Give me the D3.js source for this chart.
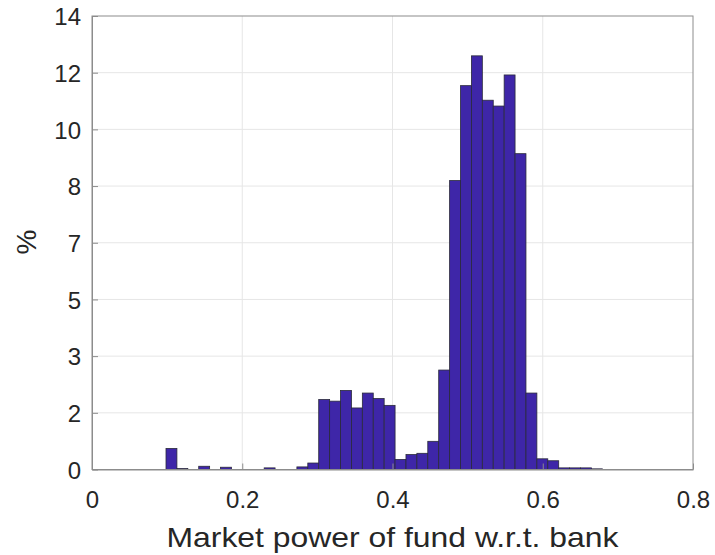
<!DOCTYPE html>
<html>
<head>
<meta charset="utf-8">
<script src="https://cdn.jsdelivr.net/npm/d3@7"></script>
<style>
  body { margin: 0; background: #fff; }
  text { font-family: "Liberation Sans", Arial, sans-serif; fill: #262626; }
</style>
</head>
<body>
<div id="chart"></div>
<script>
// histogram bins: lower edge of the first bin and bin width
var binStart = 0.0985
var binWidth = 0.01452

var binValues = [0.65, 0.03, 0, 0.10, 0, 0.07, 0, 0, 0, 0.05,
                 0, 0, 0.08, 0.20, 2.16, 2.11, 2.44, 1.90, 2.36, 2.19,
                 1.98, 0.31, 0.46, 0.50, 0.87, 3.07, 8.92, 11.85, 12.77, 11.40,
                 11.22, 12.18, 9.75, 2.36, 0.33, 0.27, 0.05, 0.05, 0.05, 0.02]

var xTicks = [0, 0.2, 0.4, 0.6, 0.8]
var yTicks = [0, 1.75, 3.5, 5.25, 7, 8.75, 10.5, 12.25, 14]
var yTickLabels = ["0", "2", "3", "5", "7", "8", "10", "12", "14"]

var bins = binValues.map(function(v, i) {
  return {x0: binStart + i * binWidth, x1: binStart + (i + 1) * binWidth, value: v}
})

var W = 715, H = 555
var pl = 92, pr = 693, pt = 16, pb = 469.5

var svg = d3.select("#chart").append("svg")
    .attr("width", W)
    .attr("height", H)

var x = d3.scaleLinear().domain([0, 0.8]).range([pl, pr])
var y = d3.scaleLinear().domain([0, 14]).range([pb, pt])

// grid
svg.append("g").selectAll("line").data(xTicks.slice(1, -1))
  .enter().append("line")
  .attr("x1", function(d){return x(d)}).attr("x2", function(d){return x(d)})
  .attr("y1", pt).attr("y2", pb)
  .attr("stroke", "#e6e6e6").attr("stroke-width", 1)

svg.append("g").selectAll("line").data(yTicks.slice(1, -1))
  .enter().append("line")
  .attr("x1", pl).attr("x2", pr)
  .attr("y1", function(d){return y(d)}).attr("y2", function(d){return y(d)})
  .attr("stroke", "#e6e6e6").attr("stroke-width", 1)

// bars
svg.append("g").selectAll("rect").data(bins)
  .enter().append("rect")
  .attr("x", function(d){return x(d.x0)})
  .attr("width", function(d){return x(d.x1) - x(d.x0)})
  .attr("y", function(d){return y(d.value)})
  .attr("height", function(d){return y(0) - y(d.value)})
  .attr("fill", "#3e26a8")
  .attr("stroke", "#2a2a3a")
  .attr("stroke-width", 0.8)

// box
svg.append("rect")
  .attr("x", pl).attr("y", pt)
  .attr("width", pr - pl).attr("height", pb - pt)
  .attr("fill", "none").attr("stroke", "#8c8c8c").attr("stroke-width", 1)

// axes
var xAxis = d3.axisBottom(x).tickValues(xTicks).tickSizeInner(-6).tickSizeOuter(0)
  .tickFormat(d3.format(""))
var gx = svg.append("g").attr("transform", "translate(0," + pb + ")").call(xAxis)
gx.select(".domain").attr("stroke", "#8c8c8c")
gx.selectAll(".tick line").attr("stroke", "#8c8c8c")
gx.selectAll(".tick text").attr("y", 21).attr("dy", "0.71em")
  .style("font-size", "24px").attr("fill", "#262626")

var yAxis = d3.axisLeft(y).tickValues(yTicks).tickSizeInner(-6).tickSizeOuter(0)
  .tickFormat(function(d, i){return yTickLabels[i]})
var gy = svg.append("g").attr("transform", "translate(" + pl + ",0)").call(yAxis)
gy.select(".domain").attr("stroke", "#8c8c8c")
gy.selectAll(".tick line").attr("stroke", "#8c8c8c")
gy.selectAll(".tick text").attr("x", -11).attr("dy", "0.36em")
  .style("font-size", "24px").attr("fill", "#262626")

// labels
svg.append("text")
  .attr("x", (pl + pr) / 2)
  .attr("y", 547)
  .attr("text-anchor", "middle")
  .attr("textLength", 452)
  .attr("lengthAdjust", "spacingAndGlyphs")
  .style("font-size", "28px")
  .text("Market power of fund w.r.t. bank")

svg.append("text")
  .attr("transform", "translate(36,242) rotate(-90)")
  .attr("text-anchor", "middle")
  .style("font-size", "28px")
  .text("%")
</script>
</body>
</html>
